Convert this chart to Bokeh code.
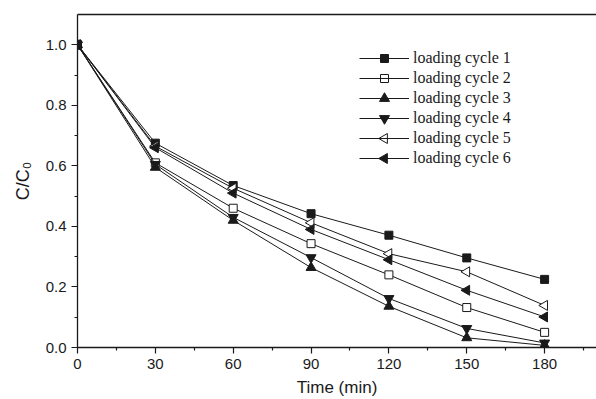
import math

from bokeh.embed import file_html
from bokeh.resources import INLINE
from bokeh.plotting import figure
from bokeh.models import (ColumnDataSource, Legend, LegendItem, LinearAxis,
                          FixedTicker, Range1d)

# sampling times (min)
time_min = [0, 30, 60, 90, 120, 150, 180]

# normalised concentration C/C0 for each loading cycle
cycle_1 = [1.0, 0.675, 0.535, 0.442, 0.371, 0.296, 0.225]
cycle_2 = [1.0, 0.610, 0.460, 0.343, 0.240, 0.132, 0.050]
cycle_3 = [1.0, 0.595, 0.420, 0.264, 0.136, 0.032, 0.007]
cycle_4 = [1.0, 0.605, 0.430, 0.297, 0.162, 0.063, 0.015]
cycle_5 = [1.0, 0.665, 0.526, 0.412, 0.310, 0.250, 0.139]
cycle_6 = [1.0, 0.660, 0.510, 0.390, 0.290, 0.189, 0.101]

series_labels = ["loading cycle 1", "loading cycle 2", "loading cycle 3",
                 "loading cycle 4", "loading cycle 5", "loading cycle 6"]

x_ticks = [0, 30, 60, 90, 120, 150, 180]
y_ticks = [0.0, 0.2, 0.4, 0.6, 0.8, 1.0]

INK = "#1a1a1a"
FRAME_W, FRAME_H = 519, 333

p = figure(frame_width=FRAME_W, frame_height=FRAME_H, output_backend="svg",
           toolbar_location=None,
           x_range=Range1d(0, 200), y_range=Range1d(0, 1.1),
           min_border_left=77, min_border_right=0, min_border_top=14,
           min_border_bottom=10)
p.background_fill_color = "white"
p.border_fill_color = "white"
p.outline_line_color = None
p.xgrid.visible = False
p.ygrid.visible = False

# pixel-based coordinate system over the frame, used to place legend symbols
p.extra_x_ranges["px"] = Range1d(0, FRAME_W)
p.extra_y_ranges["px"] = Range1d(0, FRAME_H)

# (marker, angle, filled, size)
styles = [
    ("square", 0.0, True, 8),
    ("square", 0.0, False, 8),
    ("triangle", 0.0, True, 10),
    ("inverted_triangle", 0.0, True, 10),
    ("triangle", math.pi / 2, False, 10),
    ("triangle", math.pi / 2, True, 10),
]

# legend geometry (pixels from the frame's bottom-left corner)
LEG_X, LEG_Y, ROW_H, GLYPH_W = 282, 179, 20, 50
n_rows = len(series_labels)

items = []
for i, (ys, label, (mk, ang, filled, sz)) in enumerate(zip(
        [cycle_1, cycle_2, cycle_3, cycle_4, cycle_5, cycle_6], series_labels, styles)):
    src = ColumnDataSource(dict(x=time_min, y=ys))
    fill = INK if filled else "white"
    ln = p.line("x", "y", source=src, line_color=INK, line_width=1)
    p.scatter("x", "y", source=src, marker=mk, angle=ang, size=sz,
              line_color=INK, line_width=1, fill_color=fill)
    items.append(LegendItem(label=label, renderers=[ln]))
    # legend symbol drawn on top of the legend line
    row_y = LEG_Y + (n_rows - i - 0.5) * ROW_H
    p.scatter([LEG_X + GLYPH_W / 2], [row_y], marker=mk, angle=ang, size=sz,
              line_color=INK, line_width=1, fill_color=fill,
              x_range_name="px", y_range_name="px")

legend = Legend(items=items, location=(LEG_X, LEG_Y), padding=0, spacing=0,
                margin=0, glyph_width=GLYPH_W, glyph_height=ROW_H,
                label_height=ROW_H, label_standoff=4, border_line_color=None,
                background_fill_alpha=0,
                label_text_font="Liberation Serif",
                label_text_font_size="16px", label_text_color=INK)
p.add_layout(legend)

# axes
for ax in (p.xaxis[0], p.yaxis[0]):
    ax.axis_line_color = INK
    ax.axis_line_width = 1.3
    ax.major_tick_line_color = INK
    ax.minor_tick_line_color = INK
    ax.major_tick_line_width = 1.2
    ax.minor_tick_line_width = 1.2
    ax.major_tick_in = 0
    ax.major_tick_out = 6
    ax.minor_tick_in = 0
    ax.minor_tick_out = 3
    ax.major_label_text_font = "Liberation Sans"
    ax.major_label_text_font_size = "15px"
    ax.major_label_text_color = INK
    ax.axis_label_text_font = "Liberation Sans"
    ax.axis_label_text_font_style = "normal"
    ax.axis_label_text_color = INK

p.xaxis.ticker = FixedTicker(ticks=x_ticks, minor_ticks=[15, 45, 75, 105, 135, 165, 195])
p.yaxis.ticker = FixedTicker(ticks=y_ticks, minor_ticks=[0.1, 0.3, 0.5, 0.7, 0.9])
p.xaxis.major_label_overrides = {t: str(t) for t in x_ticks}
p.yaxis.major_label_overrides = {t: f"{t:.1f}" for t in y_ticks}
p.xaxis.axis_label = "Time (min)"
p.xaxis.axis_label_text_font_size = "17px"
p.xaxis.axis_label_standoff = 6
p.yaxis.axis_label = "C/C\u2080"
p.yaxis.axis_label_text_font_size = "18px"
p.yaxis.axis_label_standoff = 10
p.xaxis.major_label_standoff = 5
p.yaxis.major_label_standoff = 5

# top frame line
top = LinearAxis(ticker=FixedTicker(ticks=[]), axis_line_color=INK,
                 axis_line_width=1.3, major_tick_out=0, major_tick_in=0,
                 minor_tick_out=0, minor_tick_in=0,
                 major_label_text_font_size="0px", major_label_standoff=0,
                 axis_label=None)
p.add_layout(top, "above")

open("out.html", "w").write(file_html(p, INLINE))
